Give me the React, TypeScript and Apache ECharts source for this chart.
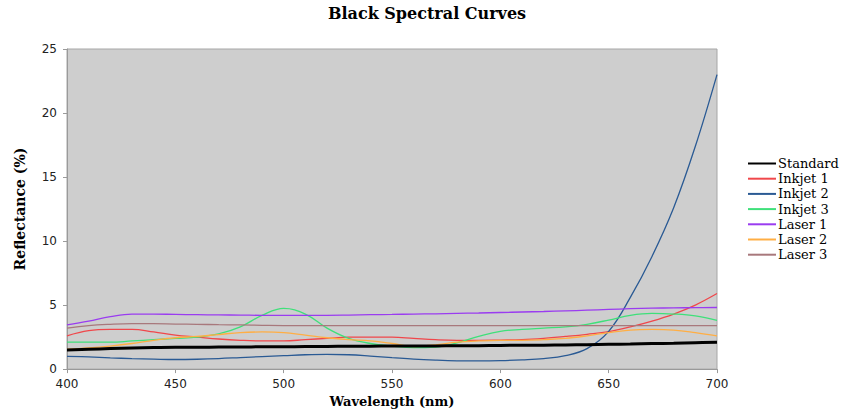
import React, { useEffect, useRef } from "react";
import * as echarts from "echarts";

const wavelengths = [400, 410, 420, 430, 440, 450, 460, 470, 480, 490, 500, 510, 520, 530, 540, 550, 560, 570, 580, 590, 600, 610, 620, 630, 640, 650, 660, 670, 680, 690, 700];

const standard = [1.5, 1.55, 1.6, 1.65, 1.68, 1.7, 1.7, 1.72, 1.73, 1.74, 1.75, 1.76, 1.77, 1.78, 1.79, 1.8, 1.8, 1.81, 1.82, 1.83, 1.85, 1.86, 1.87, 1.89, 1.91, 1.94, 1.96, 1.99, 2.02, 2.06, 2.1];
const inkjet1 = [2.6, 3.0, 3.1, 3.1, 2.9, 2.65, 2.5, 2.35, 2.25, 2.2, 2.2, 2.3, 2.4, 2.5, 2.5, 2.5, 2.4, 2.3, 2.25, 2.25, 2.27, 2.3, 2.4, 2.55, 2.72, 2.93, 3.3, 3.75, 4.3, 5.0, 5.9];
const inkjet2 = [1.0, 0.95, 0.88, 0.82, 0.78, 0.75, 0.77, 0.82, 0.9, 0.98, 1.05, 1.12, 1.15, 1.12, 1.02, 0.9, 0.78, 0.7, 0.65, 0.64, 0.66, 0.72, 0.82, 1.05, 1.6, 2.95, 5.6, 8.8, 12.6, 17.4, 23.0];
const inkjet3 = [2.1, 2.1, 2.1, 2.2, 2.3, 2.4, 2.5, 2.75, 3.3, 4.2, 4.75, 4.3, 3.2, 2.4, 2.0, 1.8, 1.68, 1.72, 2.05, 2.55, 2.95, 3.1, 3.2, 3.3, 3.5, 3.83, 4.2, 4.35, 4.3, 4.15, 3.8];
const laser1 = [3.45, 3.75, 4.1, 4.3, 4.3, 4.27, 4.25, 4.23, 4.22, 4.2, 4.2, 4.2, 4.2, 4.22, 4.25, 4.27, 4.3, 4.32, 4.35, 4.38, 4.42, 4.46, 4.5, 4.55, 4.6, 4.66, 4.72, 4.76, 4.78, 4.8, 4.81];
const laser2 = [1.55, 1.65, 1.8, 2.0, 2.25, 2.45, 2.55, 2.7, 2.85, 2.9, 2.85, 2.65, 2.45, 2.3, 2.2, 2.0, 1.76, 1.9, 2.1, 2.2, 2.25, 2.25, 2.3, 2.4, 2.6, 2.85, 3.05, 3.1, 3.05, 2.85, 2.6];
const laser3 = [3.2, 3.4, 3.5, 3.55, 3.55, 3.52, 3.5, 3.47, 3.45, 3.42, 3.4, 3.4, 3.4, 3.4, 3.4, 3.4, 3.4, 3.39, 3.39, 3.39, 3.39, 3.39, 3.39, 3.39, 3.39, 3.39, 3.39, 3.39, 3.39, 3.39, 3.39];

const seriesNames = ["Standard", "Inkjet 1", "Inkjet 2", "Inkjet 3", "Laser 1", "Laser 2", "Laser 3"];
const seriesValues = [standard, inkjet1, inkjet2, inkjet3, laser1, laser2, laser3];
const seriesColors = ["#000000", "#f0474b", "#2a5a94", "#3fe07a", "#9a3cf0", "#ffae44", "#a8787c"];
const seriesWidths = [3, 1.3, 1.3, 1.3, 1.3, 1.3, 1.3];

const serif = "'DejaVu Serif', 'Liberation Serif', serif";
const sans = "'DejaVu Sans', Verdana, sans-serif";

export default function App() {
  const ref = useRef<HTMLDivElement>(null);
  useEffect(() => {
    if (!ref.current) return;
    const chart = echarts.init(ref.current, undefined, { renderer: "svg" });
    const series = seriesNames.map((name, i) => ({
      name,
      type: "line",
      smooth: 0.4,
      symbol: "none",
      z: i === 0 ? 5 : 2,
      data: wavelengths.map((w, k) => [w, seriesValues[i][k]]),
      lineStyle: { color: seriesColors[i], width: seriesWidths[i] },
      itemStyle: { color: seriesColors[i] },
    }));
    chart.setOption({
      animation: false,
      backgroundColor: "#ffffff",
      title: {
        text: "Black Spectral Curves",
        left: 422,
        textAlign: "center",
        top: 0,
        textStyle: { fontFamily: serif, fontWeight: "bold", fontSize: 16, color: "#000" },
      },
      legend: {
        orient: "vertical",
        left: 742,
        top: 152,
        itemWidth: 28,
        itemHeight: 10,
        itemGap: 2.2,
        data: seriesNames,
        itemStyle: { opacity: 0 },
        textStyle: { fontFamily: serif, fontSize: 13, color: "#000", lineHeight: 13, padding: [0, 0, 0, -3] },
      },
      grid: {
        left: 67,
        right: 125,
        top: 49,
        bottom: 42,
        show: true,
        backgroundColor: "#cecece",
        borderColor: "#a6a6a6",
        borderWidth: 1,
      },
      xAxis: {
        type: "value",
        min: 400,
        max: 700,
        interval: 50,
        name: "Wavelength (nm)",
        nameLocation: "middle",
        nameGap: 24,
        nameTextStyle: { fontFamily: serif, fontWeight: "bold", fontSize: 13, color: "#000" },
        axisLine: { show: true, lineStyle: { color: "#9a9a9a" } },
        axisTick: { show: true, length: 4, lineStyle: { color: "#9a9a9a" } },
        axisLabel: { fontFamily: sans, fontSize: 12, color: "#222", margin: 9 },
        splitLine: { show: false },
      },
      yAxis: {
        type: "value",
        min: 0,
        max: 25,
        interval: 5,
        name: "Reflectance (%)",
        nameLocation: "middle",
        nameRotate: 90,
        nameGap: 40,
        nameTextStyle: { fontFamily: serif, fontWeight: "bold", fontSize: 14, color: "#000" },
        axisLine: { show: true, lineStyle: { color: "#9a9a9a" } },
        axisTick: { show: true, length: 4, lineStyle: { color: "#9a9a9a" } },
        axisLabel: { fontFamily: sans, fontSize: 12, color: "#222", margin: 10 },
        splitLine: { show: false },
      },
      series,
    });
    return () => chart.dispose();
  }, []);
  return <div ref={ref} style={{ width: 842, height: 413, position: "fixed", left: 0, top: 0 }} />;
}
